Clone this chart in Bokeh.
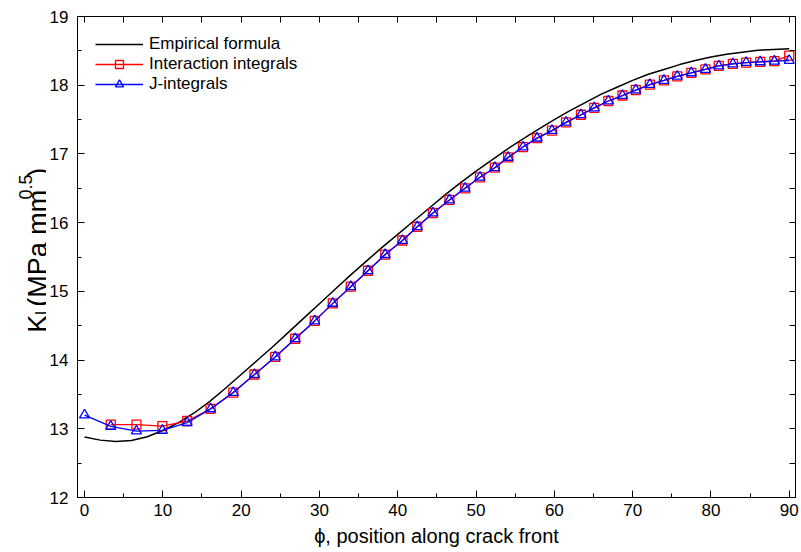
from math import pi
from bokeh.plotting import figure
from bokeh.layouts import row
from bokeh.models import (Range1d, LinearAxis, SingleIntervalTicker, FixedTicker,
                          Label, Legend, LegendItem, ColumnDataSource)
from bokeh.embed import file_html
from bokeh.resources import INLINE

# ---------------- data ----------------
phi_nodes = [0, 3.35, 6.63, 9.94, 13.1, 16.1, 19.0, 21.7, 24.35, 26.9, 29.4,
             31.7, 34.0, 36.2, 38.4, 40.6, 42.5, 44.5, 46.6, 48.6, 50.5,
             52.4, 54.1, 56.0, 57.8, 59.7, 61.5, 63.4, 65.1, 66.9, 68.7,
             70.4, 72.2, 74.0, 75.7, 77.5, 79.3, 81.0, 82.8, 84.5, 86.3,
             88.1, 90.0]

k_j_integral = [13.20, 13.035, 12.967, 12.977, 13.09, 13.29, 13.527, 13.79,
                14.046, 14.31, 14.57, 14.825, 15.068, 15.30, 15.535, 15.74,
                15.94, 16.14, 16.33, 16.50, 16.66, 16.80, 16.95, 17.10, 17.23,
                17.34, 17.46, 17.57, 17.67, 17.77, 17.85, 17.93, 18.01, 18.07,
                18.13, 18.18, 18.23, 18.28, 18.31, 18.33, 18.34, 18.35, 18.36]

# interaction integrals: no value at phi = 0
phi_interaction = phi_nodes[1:]
k_interaction = [13.06, 13.06, 13.04, 13.113, 13.29, 13.527, 13.79,
                 14.046, 14.31, 14.57, 14.825, 15.068, 15.30, 15.535, 15.74,
                 15.94, 16.14, 16.33, 16.50, 16.66, 16.80, 16.95, 17.10, 17.23,
                 17.34, 17.46, 17.57, 17.67, 17.77, 17.85, 17.93, 18.01, 18.07,
                 18.13, 18.18, 18.23, 18.28, 18.31, 18.33, 18.34, 18.35, 18.43]

phi_empirical = [0, 2, 4, 6, 8, 10, 12, 14, 16, 18, 20, 22, 24, 26, 28, 30,
                 32, 34, 36, 38, 40, 42, 44, 46, 48, 50, 52, 54, 56, 58, 60,
                 62, 64, 66, 68, 70, 72, 74, 76, 78, 80, 82, 84, 86, 88, 90]
k_empirical = [12.88, 12.835, 12.815, 12.83, 12.885, 12.975, 13.09, 13.23,
               13.40, 13.59, 13.79, 13.99, 14.19, 14.40, 14.61, 14.82, 15.03,
               15.24, 15.44, 15.64, 15.83, 16.02, 16.21, 16.40, 16.58, 16.75,
               16.91, 17.07, 17.22, 17.36, 17.50, 17.63, 17.75, 17.87, 17.97,
               18.07, 18.16, 18.23, 18.30, 18.36, 18.41, 18.45, 18.48, 18.51,
               18.52, 18.53]

x_ticks_top = list(range(0, 95, 5))
y_ticks_right = [12 + 0.5 * i for i in range(15)]

x_label = "\u03d5, position along crack front"
legend_labels = ["Empirical formula", "Interaction integrals", "J-integrals"]

FONT = "Liberation Sans"
W, H = 801, 552
LABEL_W = 46

# ---------------- narrow strip holding the rotated y-axis title ----------------
# its data space is plain pixels (x to the right, y downwards)
ylab = figure(width=LABEL_W, height=H, output_backend="svg", toolbar_location=None,
              x_range=Range1d(0, LABEL_W), y_range=Range1d(H, 0),
              x_axis_type=None, y_axis_type=None,
              min_border_left=0, min_border_right=0, min_border_top=0,
              min_border_bottom=0)
ylab.outline_line_color = None
ylab.xgrid.visible = False
ylab.ygrid.visible = False

big = "27px"
small = "18px"
# (text, baseline x, start y, font size) -- text runs bottom to top
pieces = [
    ("K", 37, 363, big),
    ("I", 41, 343, small),
    ("(MPa mm", 37, 333, big),
    ("0.5", 25, 210, small),
    (")", 37, 184, big),
]
for txt, xx, yy, fs in pieces:
    ylab.add_layout(Label(x=xx, y=yy, text=txt, angle=pi / 2,
                          text_font=FONT, text_font_size=fs, text_color="black",
                          text_align="left", text_baseline="alphabetic"))

# ---------------- main figure ----------------
p = figure(width=W - LABEL_W, height=H, output_backend="svg", toolbar_location=None,
           x_range=Range1d(-0.9, 90.8), y_range=Range1d(12, 19),
           min_border_left=76 - LABEL_W, min_border_right=6, min_border_top=16,
           min_border_bottom=55)
p.xgrid.visible = False
p.ygrid.visible = False
p.outline_line_color = "black"
p.outline_line_width = 1
p.background_fill_color = "white"
p.border_fill_color = "white"

src_emp = ColumnDataSource(dict(x=phi_empirical, y=k_empirical))
src_int = ColumnDataSource(dict(x=phi_interaction, y=k_interaction))
src_j = ColumnDataSource(dict(x=phi_nodes, y=k_j_integral))

r_emp = p.line("x", "y", source=src_emp, line_color="black", line_width=1.5)
r_int_l = p.line("x", "y", source=src_int, line_color="#ff0000", line_width=1.3)
r_int_m = p.scatter("x", "y", source=src_int, marker="square", size=9,
                    fill_color=None, line_color="#ff0000", line_width=1.3)
r_j_l = p.line("x", "y", source=src_j, line_color="#0000ff", line_width=1.3)
r_j_m = p.scatter("x", "y", source=src_j, marker="triangle", size=10,
                  fill_color=None, line_color="#0000ff", line_width=1.3)


def style_axis(ax):
    ax.axis_line_color = "black"
    ax.axis_line_width = 1
    ax.major_tick_line_color = "black"
    ax.minor_tick_line_color = "black"
    ax.major_tick_in = 7
    ax.major_tick_out = 0
    ax.minor_tick_in = 4
    ax.minor_tick_out = 0
    ax.major_label_text_font = FONT
    ax.major_label_text_font_size = "17px"
    ax.major_label_text_color = "black"


p.xaxis[0].ticker = SingleIntervalTicker(interval=10, num_minor_ticks=2)
p.yaxis[0].ticker = SingleIntervalTicker(interval=1, num_minor_ticks=2)
style_axis(p.xaxis[0])
style_axis(p.yaxis[0])
p.xaxis[0].major_label_standoff = 6
p.yaxis[0].major_label_standoff = 9
p.xaxis[0].axis_label = x_label
p.xaxis[0].axis_label_text_font = FONT
p.xaxis[0].axis_label_text_font_size = "20px"
p.xaxis[0].axis_label_text_font_style = "normal"
p.xaxis[0].axis_label_text_color = "black"
p.xaxis[0].axis_label_standoff = 6

# mirrored ticks (no labels) on top and right: only minor ticks are given
top_ax = LinearAxis(ticker=FixedTicker(ticks=[], minor_ticks=x_ticks_top))
style_axis(top_ax)
top_ax.minor_tick_in = 6
p.add_layout(top_ax, "above")
right_ax = LinearAxis(ticker=FixedTicker(ticks=[], minor_ticks=y_ticks_right))
style_axis(right_ax)
right_ax.minor_tick_in = 6
p.add_layout(right_ax, "right")

# ---------------- legend ----------------
legend = Legend(items=[
    LegendItem(label=legend_labels[0], renderers=[r_emp]),
    LegendItem(label=legend_labels[1], renderers=[r_int_l, r_int_m]),
    LegendItem(label=legend_labels[2], renderers=[r_j_l, r_j_m]),
], location="top_left")
legend.border_line_alpha = 0
legend.background_fill_alpha = 0
legend.label_text_font = FONT
legend.label_text_font_size = "17px"
legend.label_text_color = "black"
legend.glyph_width = 48
legend.glyph_height = 20
legend.label_height = 20
legend.spacing = 0
legend.padding = 8
legend.margin = 10
legend.label_standoff = 6
p.add_layout(legend)

layout = row(ylab, p, spacing=0)
open("out.html", "w").write(file_html(layout, INLINE))
